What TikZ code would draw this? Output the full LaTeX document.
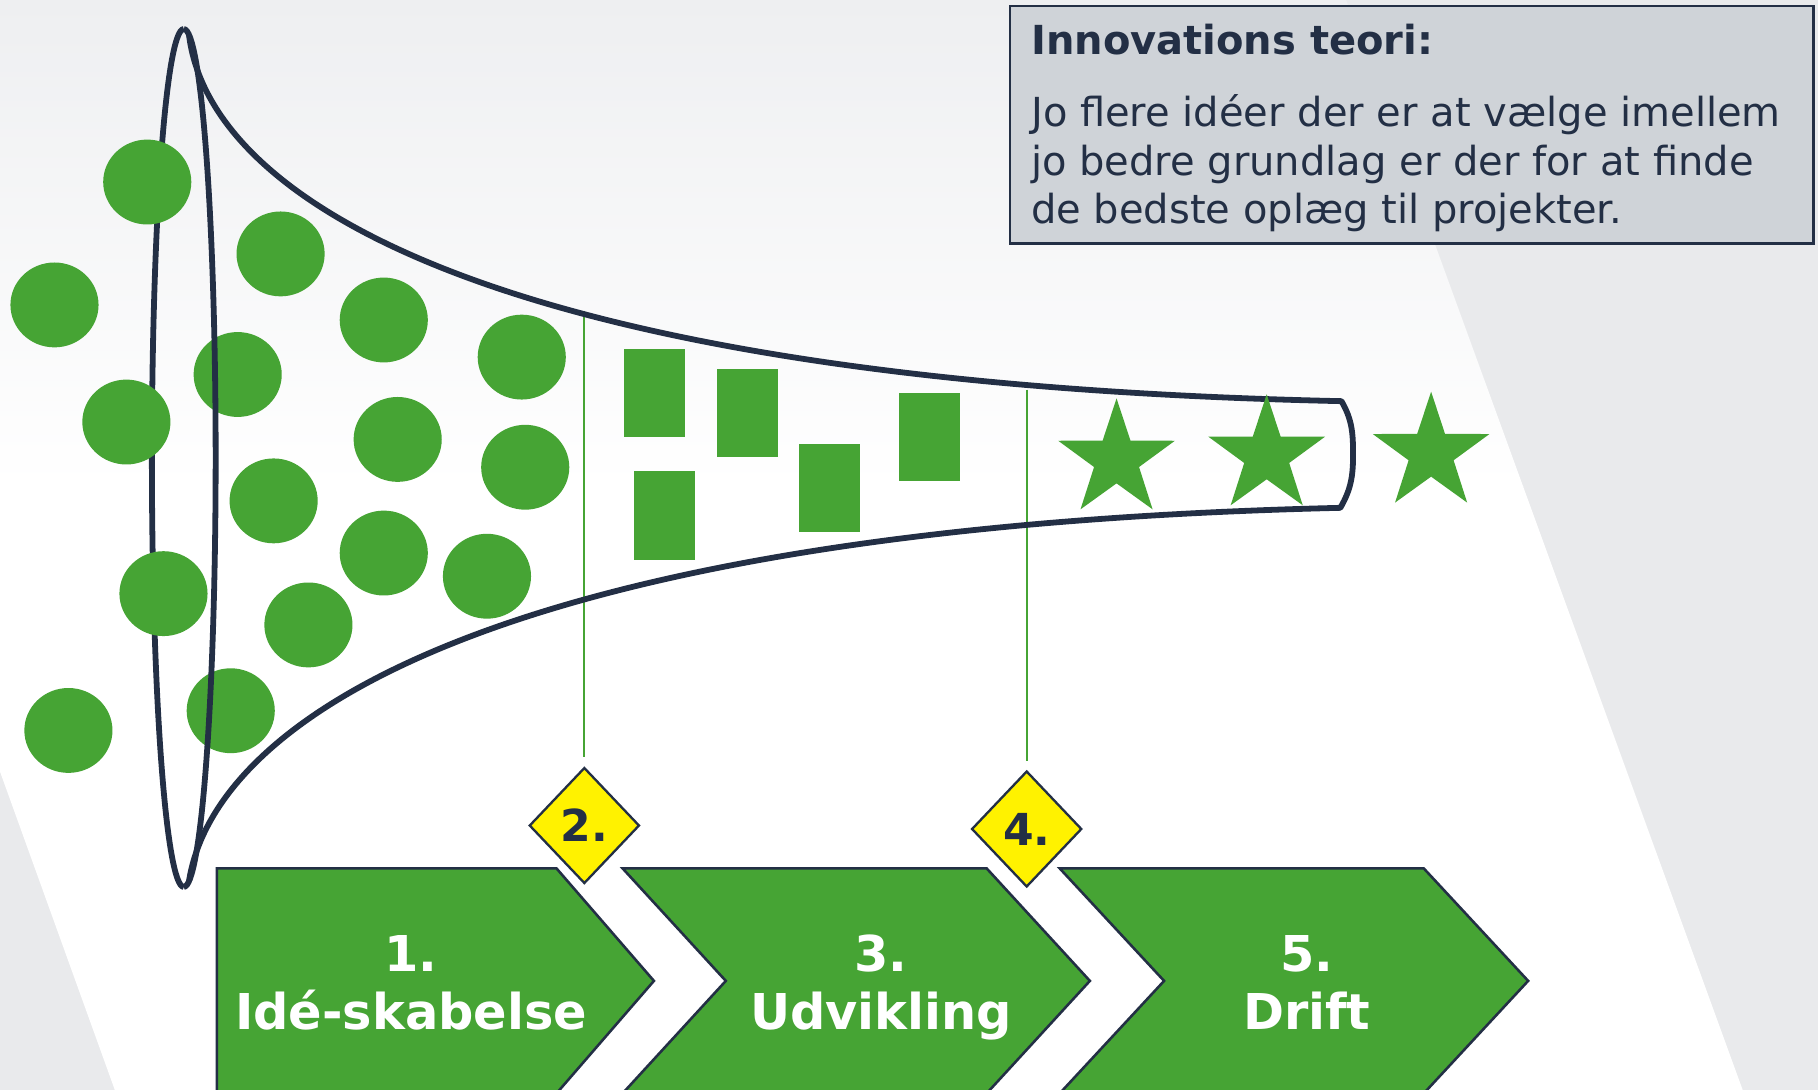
\documentclass[tikz,border=0pt]{standalone}
\usepackage{fontspec}
\setmainfont{DejaVu Sans}
\usetikzlibrary{shapes.geometric}

\definecolor{grn}{RGB}{70,164,52}
\definecolor{navy}{RGB}{35,47,69}
\definecolor{boxgray}{RGB}{207,211,216}
\definecolor{bggray}{RGB}{233,234,236}
\definecolor{bgtop}{RGB}{238,239,241}

\tikzset{
  funnel/.style={draw=navy, line width=2.5pt, line join=round},
  vline/.style={draw=grn, line width=0.9pt},
  chev/.style={fill=grn, draw=navy, line width=1.1pt, line join=miter},
  chevtxt/.style={anchor=base, inner sep=0, text=white,
                  font=\fontsize{21.3}{25}\selectfont\bfseries},
  gate/.style={diamond, draw=navy, fill=yellow, line width=1pt,
               minimum width=47.5pt, minimum height=50pt, inner sep=0,
               text=navy, font=\fontsize{19}{22}\selectfont\bfseries},
  boxtxt/.style={anchor=base west, inner sep=0, text=navy,
                 font=\fontsize{17.25}{21}\selectfont},
  idea/.style={fill=grn},
  gstar/.pic={
    \fill[grn] (-90:52.9) -- (-54:20.4) -- (-18:52.9) -- (18:20.4)
      -- (54:52.9) -- (90:20.4) -- (126:52.9) -- (162:20.4)
      -- (198:52.9) -- (234:20.4) -- cycle;
  }
}

\begin{document}
\begin{tikzpicture}[x=0.5pt, y=-0.5pt]
\useasboundingbox (0,0) rectangle (1568,940);
\clip (0,0) rectangle (1568,940);

% backdrop: grey sheet with a light diagonal band
\fill[bggray] (0,0) rectangle (1568,940);
\begin{scope}
  \clip (-240,0) -- (1161,0) -- (1503,940) -- (99,940) -- cycle;
  \shade[top color=bgtop, bottom color=white] (0,0) rectangle (1568,420);
  \fill[white] (0,419) rectangle (1568,940);
\end{scope}

% theory box
\node[draw=navy, fill=boxgray, line width=1.1pt, anchor=north west,
      minimum width=346.5pt, minimum height=102.5pt, inner sep=0] (box) at (870,4) {};
\node[boxtxt, font=\fontsize{17.25}{21}\selectfont\bfseries] (title) at (889,47) {Innovations teori:};
\node[boxtxt] (line1) at (889,109) {Jo flere idéer der er at vælge imellem};
\node[boxtxt] (line2) at (889,151) {jo bedre grundlag er der for at finde};
\node[boxtxt] (line3) at (889,193) {de bedste oplæg til projekter.};

% process chevrons
\path[chev] (187,749) -- (480,749) -- (564,846) -- (480,943) -- (187,943) -- cycle;
\path[chev] (537,749) -- (851,749) -- (940,846) -- (851,943) -- (537,943) -- (626,846) -- cycle;
\path[chev] (914,749) -- (1228,749) -- (1318,846) -- (1228,943) -- (914,943) -- (1004,846) -- cycle;
\node[chevtxt] (c1n) at (354.6,838) {1.};
\node[chevtxt] (c1l) at (354.6,888) {Idé-skabelse};
\node[chevtxt] (c3n) at (760,838) {3.};
\node[chevtxt] (c3l) at (760,888) {Udvikling};
\node[chevtxt] (c5n) at (1127,838) {5.};
\node[chevtxt] (c5l) at (1127,888) {Drift};

% decision gates and their guide lines
\node[gate] (d2) at (504,712) {2.};
\node[gate] (d4) at (885.5,715) {4.};
\coordinate (v1) at (504,268);
\coordinate (v4) at (885.5,336);
\draw[vline, shorten >=4pt] (v1) -- (d2.north);
\draw[vline, shorten >=4pt] (v4) -- (d4.north);

% back rim of the funnel mouth
\draw[funnel] (158.5,25) arc[start angle=-90, end angle=-270, x radius=27.5, y radius=370];

% ideas entering the funnel
\foreach \p in {(127,157),(242,219),(47,263),(331,276),(205,323),(450,308),
                (109,364),(343,379),(453,403),(236,432),(331,477),(420,497),
                (141,512),(266,539),(59,630),(199,613)}
  \fill[idea] \p ellipse[x radius=38, y radius=36.6];

% funnel body and front rim
\draw[funnel] (158.5,25) arc[start angle=-90, end angle=90, x radius=27.5, y radius=370];
\draw[funnel] (163,30) .. controls (180,170) and (420,330) .. (1157,346)
  to[out=-60, in=90] (1167,392) to[out=-90, in=60] (1156,438)
  .. controls (430,455) and (185,620) .. (163,760);

% projects in development
\fill[idea] (538.5,300.7) rectangle ++(52.6,76.2);
\fill[idea] (618.4,318.3) rectangle ++(52.6,76.2);
\fill[idea] (547.1,406.5) rectangle ++(52.6,76.2);
\fill[idea] (689.2,383.0) rectangle ++(52.6,76.2);
\fill[idea] (775.1,338.7) rectangle ++(52.6,76.2);

% finished results
\pic at (963,396.5) {gstar};
\pic at (1092.5,393) {gstar};
\pic at (1234.3,390.7) {gstar};
\end{tikzpicture}
\end{document}
